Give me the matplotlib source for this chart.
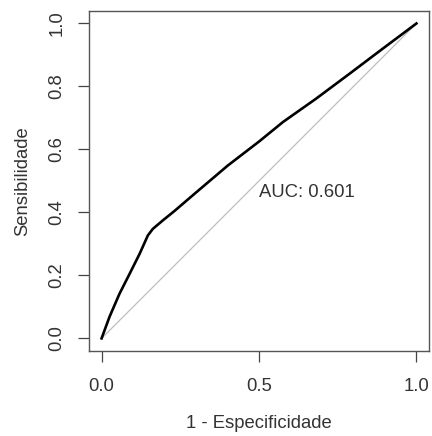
import matplotlib
matplotlib.use("Agg")
import matplotlib.pyplot as plt

# pontos da curva ROC (1 - especificidade, sensibilidade)
fpr = [0.0, 0.025, 0.057, 0.089, 0.121, 0.147, 0.163, 0.195, 0.232, 0.295, 0.401, 0.50, 0.576, 0.681, 0.787, 0.893, 1.0]
tpr = [0.0, 0.068, 0.142, 0.205, 0.269, 0.327, 0.348, 0.375, 0.405, 0.459, 0.549, 0.625, 0.687, 0.761, 0.840, 0.920, 1.0]
auc_txt = "AUC: 0.601"
ticks_x = [0.0, 0.5, 1.0]
ticks_y = [0.0, 0.2, 0.4, 0.6, 0.8, 1.0]

plt.rcParams["font.family"] = ["Liberation Sans", "DejaVu Sans"]
cor_txt = "#333333"

fig = plt.figure(figsize=(4.32, 4.36), dpi=100)
ax = fig.add_axes([0.206, 0.195, 0.787, 0.780])

ax.plot([0, 1], [0, 1], color="#bdbdbd", lw=0.9)
ax.plot(fpr, tpr, color="black", lw=1.9)
ax.text(0.5, 0.463, auc_txt, fontsize=13.3, color=cor_txt, ha="left", va="center")

ax.set_xlim(-0.04, 1.04)
ax.set_ylim(-0.04, 1.04)
ax.set_xticks(ticks_x)
ax.set_xticklabels(["%.1f" % t for t in ticks_x])
ax.set_yticks(ticks_y)
ax.set_yticklabels(["%.1f" % t for t in ticks_y], rotation=90, va="center")
ax.tick_params(length=8, width=0.9, color="#444444", labelsize=13.3, labelcolor=cor_txt)
ax.tick_params(axis="x", pad=11.5)
ax.tick_params(axis="y", pad=9)
for s in ax.spines.values():
    s.set_color("#555555")
    s.set_linewidth(1.0)

ax.set_xlabel("1 - Especificidade", fontsize=13.3, color=cor_txt, labelpad=14)
ax.set_ylabel("Sensibilidade", fontsize=13.3, color=cor_txt, labelpad=12.5)

fig.savefig("out.png", dpi=100)
